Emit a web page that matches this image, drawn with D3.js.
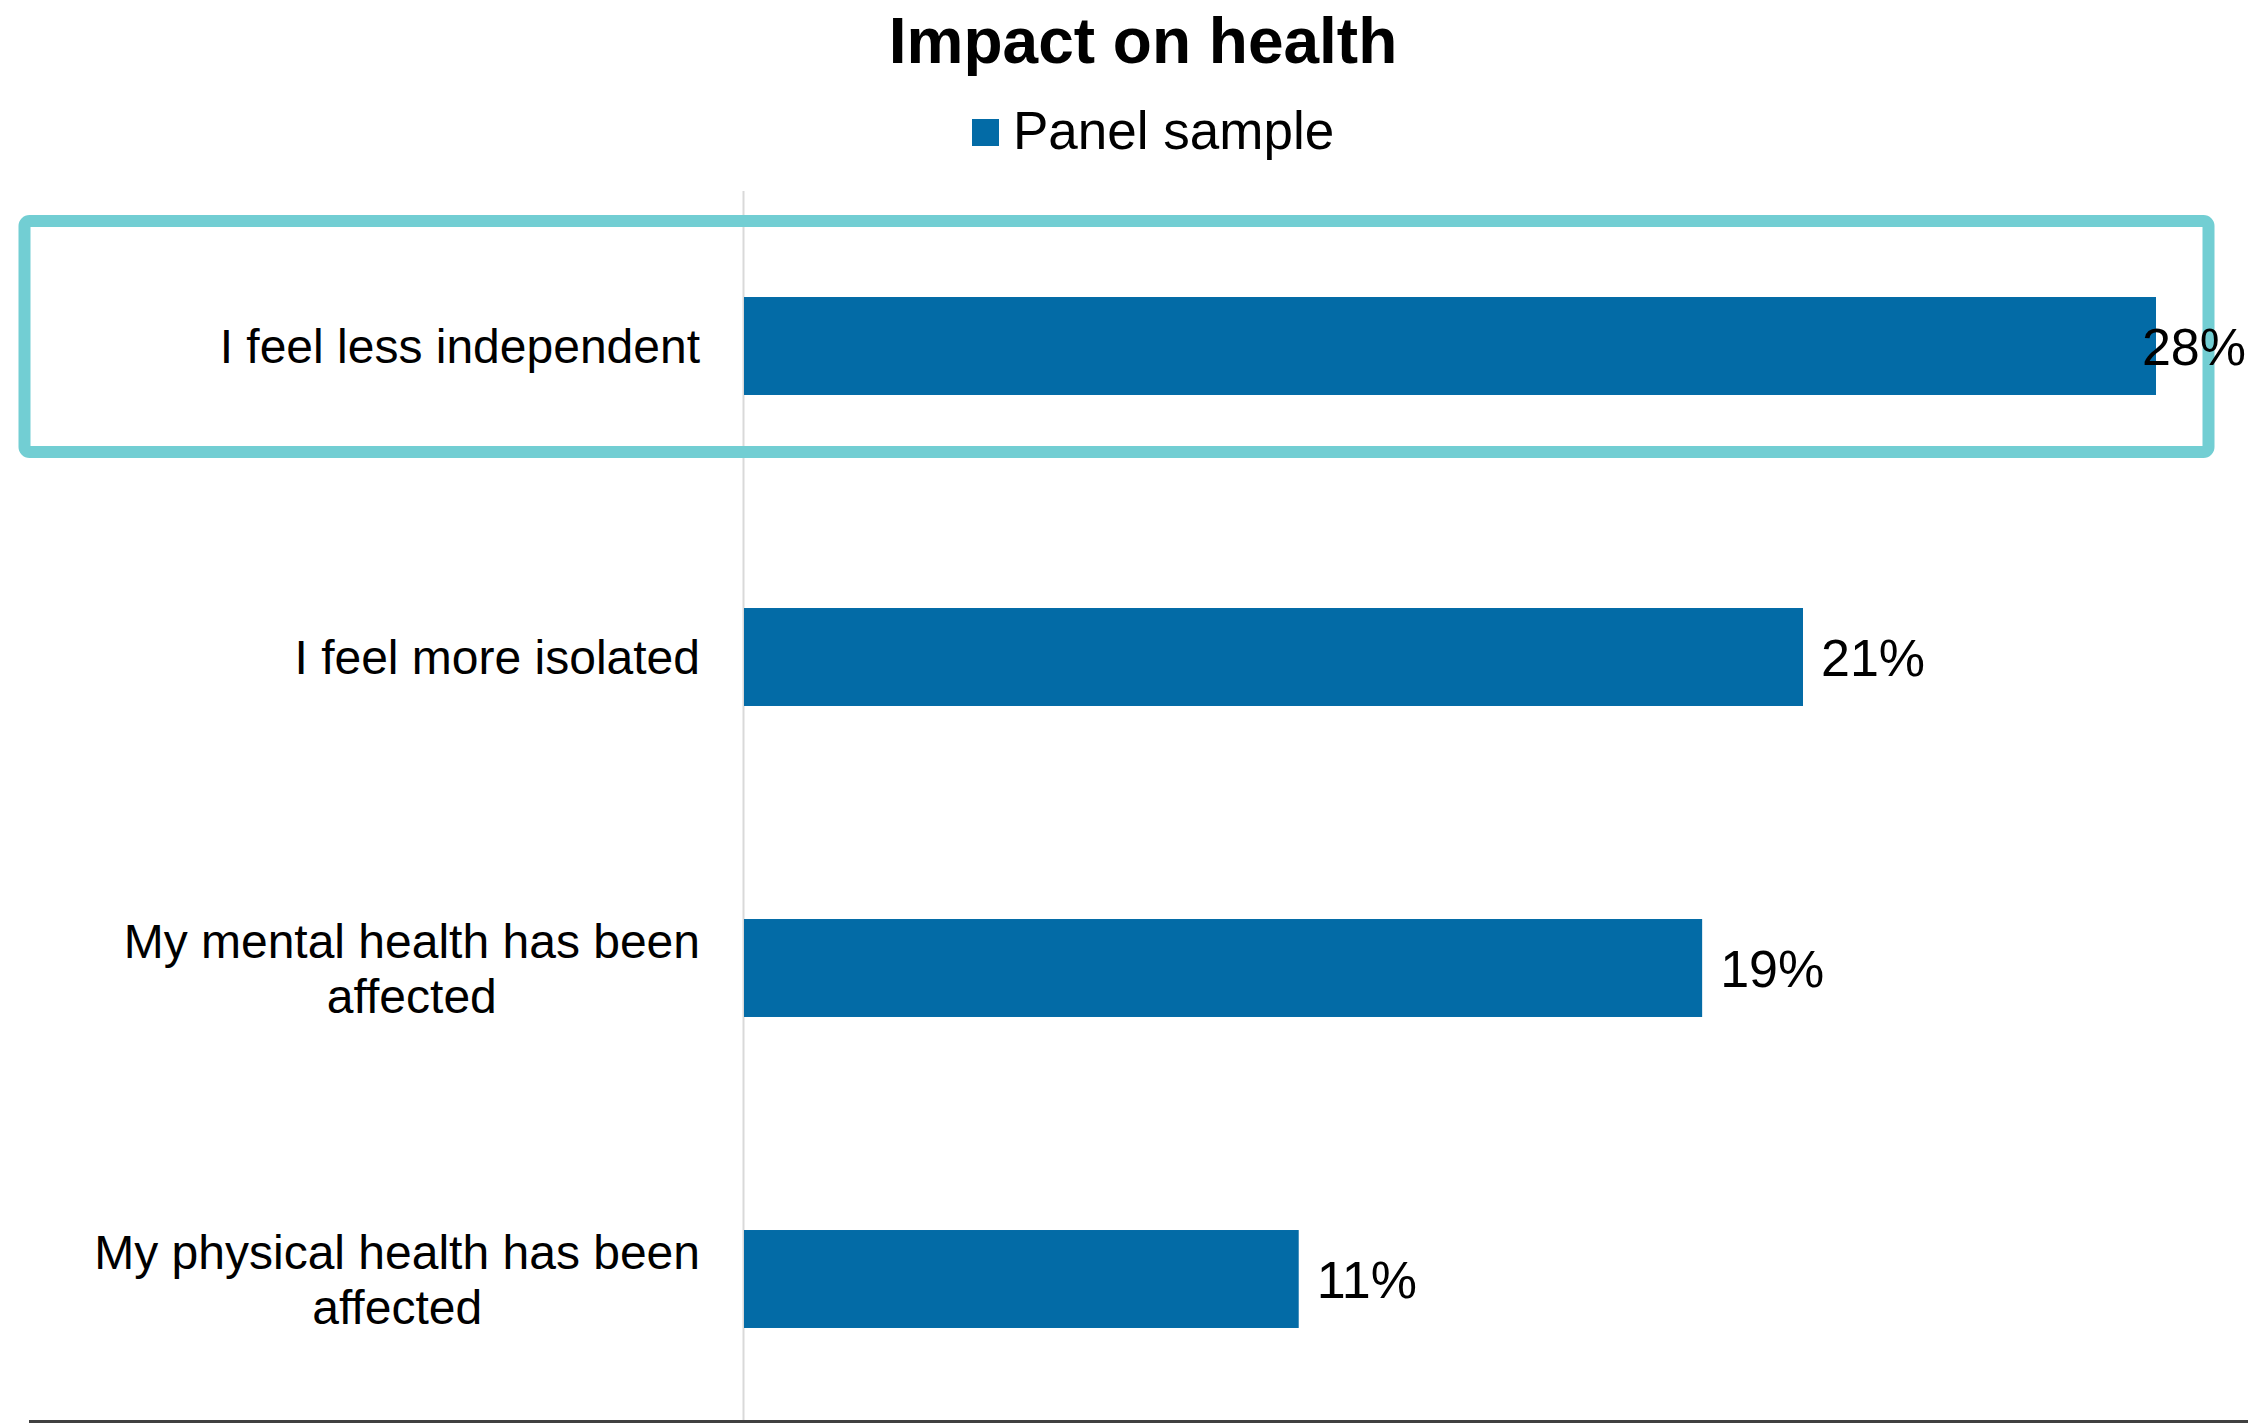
<!DOCTYPE html>
<html>
<head>
<meta charset="utf-8">
<script src="https://cdn.jsdelivr.net/npm/d3@7"></script>
<style>
  html, body { margin: 0; padding: 0; background: #ffffff; }
  svg { display: block; }
  text { font-family: "Liberation Sans", Arial, sans-serif; fill: #000; }
</style>
</head>
<body>
<div id="chart"></div>
<script>
// Survey responses: impact on health (percent of panel sample)
const categories = [
  ["I feel less independent"],
  ["I feel more isolated"],
  ["My mental health has been", "affected"],
  ["My physical health has been", "affected"]
];
const values = [28, 21, 19, 11];
const seriesName = "Panel sample";
const chartTitle = "Impact on health";
const highlightIndex = 0;

const W = 2248, H = 1424;
const barColor = "#036ba6";
const highlightColor = "#72ced3";

const svg = d3.select("#chart").append("svg")
  .attr("width", W).attr("height", H);

const x0 = 744;
const x = d3.scaleLinear().domain([0, 28]).range([x0, 2156]);
const y = d3.scaleBand()
  .domain(d3.range(categories.length))
  .range([190.5, 1434.5])
  .paddingInner(0.685)
  .paddingOuter(0.3425);

// Title
svg.append("text")
  .attr("x", 1143).attr("y", 63)
  .attr("text-anchor", "middle")
  .style("font-weight", "bold")
  .style("font-size", "64px")
  .text(chartTitle);

// Legend
const legend = svg.append("g");
legend.append("rect")
  .attr("x", 972).attr("y", 119).attr("width", 27).attr("height", 27)
  .attr("fill", barColor);
legend.append("text")
  .attr("x", 1013).attr("y", 149)
  .style("font-size", "53px")
  .text(seriesName);

// Vertical category axis line
svg.append("line")
  .attr("x1", x(0) - 0.5).attr("x2", x(0) - 0.5)
  .attr("y1", 191).attr("y2", 1421)
  .attr("stroke", "#d9d9d9").attr("stroke-width", 2);

// Bottom rule
svg.append("line")
  .attr("x1", 29).attr("x2", W)
  .attr("y1", 1421.5).attr("y2", 1421.5)
  .attr("stroke", "#404040").attr("stroke-width", 3);

// Bars
svg.append("g").selectAll("rect")
  .data(values)
  .join("rect")
  .attr("x", x(0))
  .attr("y", (d, i) => y(i))
  .attr("width", d => x(d) - x(0))
  .attr("height", y.bandwidth())
  .attr("fill", barColor);

// Highlight frame around the first category
const hc = y(highlightIndex) + y.bandwidth() / 2;
svg.append("rect")
  .attr("x", 24.5).attr("y", hc - 125)
  .attr("width", 2184).attr("height", 231)
  .attr("rx", 5).attr("ry", 5)
  .attr("fill", "none")
  .attr("stroke", highlightColor)
  .attr("stroke-width", 12);

// Category labels (lines centred within a right-aligned block)
const labelRight = 700;
const lineGap = 55;
categories.forEach((lines, i) => {
  const cy = y(i) + y.bandwidth() / 2;
  const g = svg.append("g");
  const texts = lines.map((ln, j) => g.append("text")
    .attr("y", cy + (j - (lines.length - 1) / 2) * lineGap)
    .attr("dy", "0.36em")
    .attr("text-anchor", "middle")
    .style("font-size", "48px")
    .text(ln));
  const blockW = d3.max(texts, t => t.node().getComputedTextLength());
  texts.forEach(t => t.attr("x", labelRight - blockW / 2));
});

// Value labels
svg.append("g").selectAll("text")
  .data(values)
  .join("text")
  .attr("y", (d, i) => y(i) + y.bandwidth() / 2)
  .attr("dy", "0.36em")
  .style("font-size", "52px")
  .text(d => d + "%")
  .each(function (d) {
    const w = this.getComputedTextLength();
    const lx = Math.min(x(d) + 18, W - w - 2);
    d3.select(this).attr("x", lx);
  });
</script>
</body>
</html>
